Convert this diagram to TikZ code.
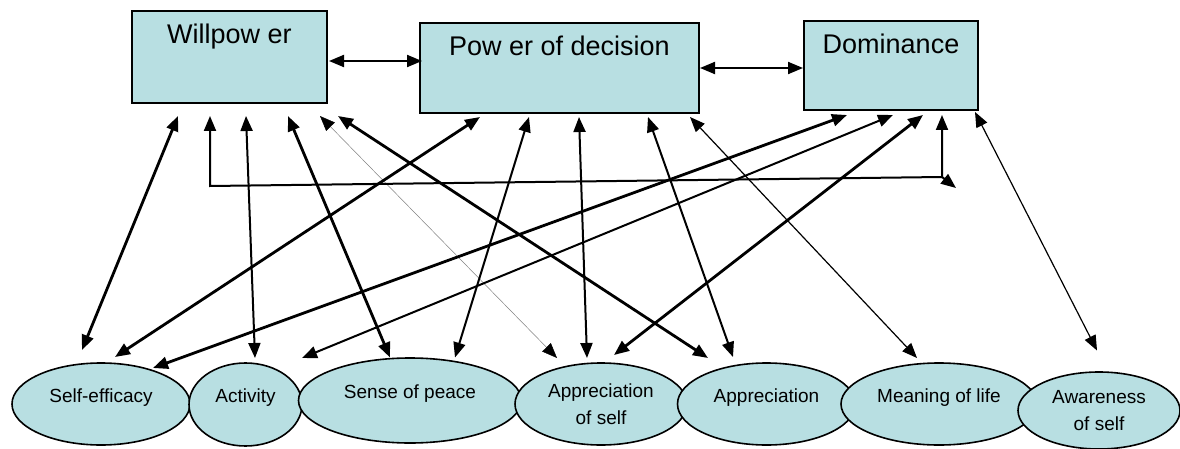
\documentclass[tikz,border=0pt]{standalone}
\usepackage{fontspec}
\setmainfont{Liberation Sans}
\usetikzlibrary{shapes.geometric, arrows.meta}
\definecolor{factorblue}{RGB}{184,223,226}
\tikzset{
    block_factor/.style={rectangle, draw, line width=2pt, fill=factorblue, inner sep=0pt, text height=33pt, anchor=north west, font=\fontsize{27}{32}\selectfont},
    oval_trait/.style={ellipse, draw, line width=1.6pt, fill=factorblue, inner sep=0pt, align=center, font=\fontsize{19}{27}\selectfont},
    one_line/.style={text height=13pt, text depth=17pt},
    link/.style={<->, >={Triangle[length=15pt, width=12pt]}, line width=2pt},
    link_thick/.style={link, line width=2.8pt},
    link_thin/.style={link, line width=1.2pt},
    link_hair/.style={link, >={Triangle[length=15pt, width=12pt, black]}, draw=gray, line width=0.5pt}
}

\begin{document}
\begin{tikzpicture}[x=1pt, y=-1pt]
    \useasboundingbox (0,0) rectangle (1180,449);

    % top row
    \node (will) [block_factor, minimum width=195pt, text depth=59pt] at (131,10) {Willpow er};
    \node (pod) [block_factor, minimum width=279pt, text depth=57pt] at (419,22) {Pow er of decision};
    \node (dom) [block_factor, minimum width=174pt, text depth=56pt] at (803,20) {Dominance};

    % bottom row, left to right
    \node (selfeff) [oval_trait, one_line, minimum width=178pt, minimum height=82pt] at (101,404) {Self-efficacy};
    \node (activity) [oval_trait, one_line, minimum width=113pt, minimum height=83pt] at (245.5,404.5) {Activity};
    \node (peace) [oval_trait, one_line, minimum width=223pt, minimum height=85pt] at (410,400.5) {Sense of peace};
    \node (selfappr) [oval_trait, minimum width=172pt, minimum height=82pt] at (601,404) {Appreciation\\of self};
    \node (appr) [oval_trait, one_line, minimum width=178pt, minimum height=82pt] at (766.5,404) {Appreciation};
    \node (meaning) [oval_trait, one_line, minimum width=196pt, minimum height=82pt] at (939,404) {Meaning of life};
    \node (aware) [oval_trait, minimum width=162pt, minimum height=77pt] at (1099,410.5) {Awareness\\of self};

    \draw [link] ([shift={(1,4)}]will.east) -- ([shift={(3,-7)}]pod.west);
    \draw [link] (pod.east) -- ([shift={(0,2.5)}]dom.west);

    % Willpower
    \draw [link_thick] ([shift={(47,12)}]will.south west) -- ([shift={(-19,-54)}]selfeff.center);
    \draw [link] ([shift={(115,12)}]will.south west) -- ([shift={(9.5,-46.5)}]activity.center);
    \draw [link_thick] ([shift={(157,12)}]will.south west) -- ([shift={(-20,-43)}]peace.center);
    \draw [link_hair] ([shift={(189,12)}]will.south west) -- ([shift={(-44,-46)}]selfappr.center);
    \draw [link_thick] ([shift={(207,12)}]will.south west) -- ([shift={(-58.5,-46)}]appr.center);

    % Power of decision
    \draw [link_thick] ([shift={(61,3)}]pod.south west) -- ([shift={(14,-47)}]selfeff.center);
    \draw [link] ([shift={(110,3)}]pod.south west) -- ([shift={(45,-43)}]peace.center);
    \draw [link] ([shift={(160,3)}]pod.south west) -- ([shift={(-14,-46)}]selfappr.center);
    \draw [link] ([shift={(229,3)}]pod.south west) -- ([shift={(-33.5,-47)}]appr.center);
    \draw [link_thin] ([shift={(271,3)}]pod.south west) -- ([shift={(-22,-46)}]meaning.center);

    % Dominance
    \draw [link_thick] ([shift={(44,4)}]dom.south west) -- ([shift={(52,-36)}]selfeff.center);
    \draw [link] ([shift={(90,4)}]dom.south west) -- ([shift={(56.5,-46.5)}]activity.center);
    \draw [link_thick] ([shift={(120,4)}]dom.south west) -- ([shift={(13,-49)}]selfappr.center);
    \draw [link_thin] ([shift={(172,1)}]dom.south west) -- ([shift={(-2,-60)}]aware.center);

    % Willpower -- Dominance loop
    \coordinate (loop_left) at (210,186);
    \coordinate (loop_right) at (942,177);
    \coordinate (loop_tip) at (956,188);
    \draw [link] ([shift={(79,12)}]will.south west) -- (loop_left) -- (loop_right) -- ([shift={(139,4)}]dom.south west);
    \draw [link, ->] (loop_right) -- (loop_tip);
\end{tikzpicture}
\end{document}
